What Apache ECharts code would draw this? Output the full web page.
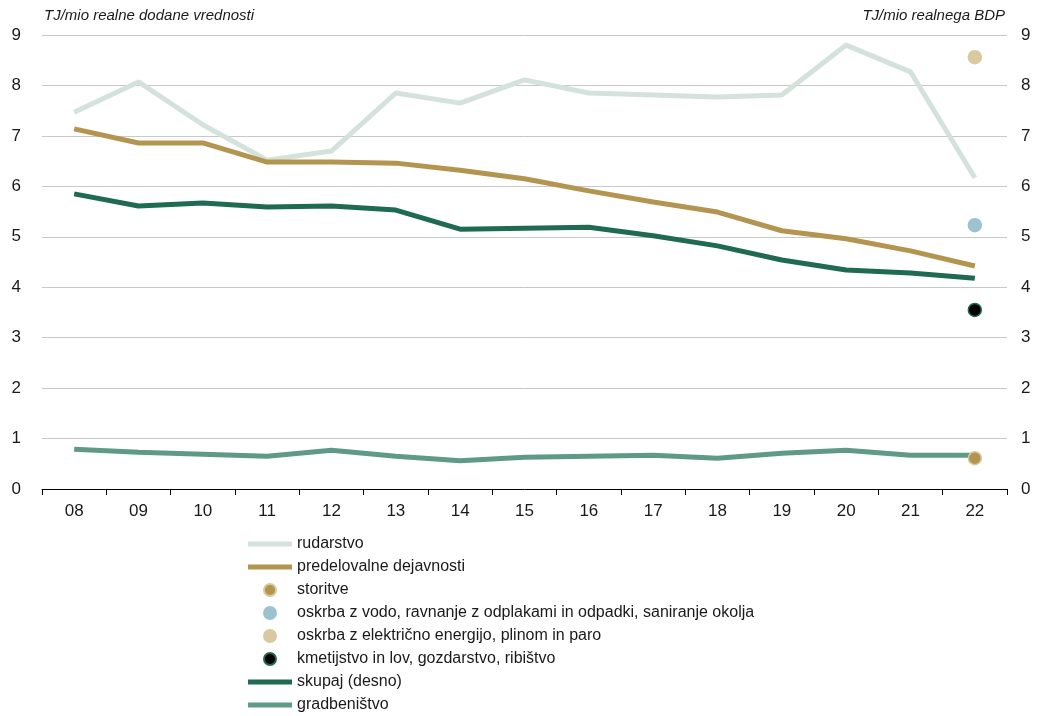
<!DOCTYPE html>
<html>
<head>
<meta charset="utf-8">
<script src="https://cdn.jsdelivr.net/npm/echarts@6/dist/echarts.min.js"></script>
<style>
  html, body { margin: 0; padding: 0; background: #fff; }
  #chart { width: 1038px; height: 716px; }
</style>
</head>
<body>
<div id="chart"></div>
<script>
// leta (kategorije)
var years = ['08', '09', '10', '11', '12', '13', '14', '15', '16', '17', '18', '19', '20', '21', '22'];

var rudarstvo = [7.47, 8.07, 7.22, 6.52, 6.70, 7.85, 7.65, 8.11, 7.85, 7.81, 7.77, 7.81, 8.80, 8.27, 6.17];
var predelovalne = [7.14, 6.86, 6.86, 6.48, 6.48, 6.46, 6.32, 6.15, 5.91, 5.69, 5.49, 5.12, 4.96, 4.72, 4.42];
var skupaj = [5.85, 5.61, 5.67, 5.59, 5.61, 5.53, 5.15, 5.17, 5.19, 5.02, 4.82, 4.54, 4.34, 4.28, 4.18];
var gradbenistvo = [0.79, 0.73, 0.69, 0.65, 0.77, 0.65, 0.56, 0.63, 0.65, 0.67, 0.61, 0.71, 0.77, 0.67, 0.67];

// samo zadnje leto
var storitve = [['22', 0.61]];
var oskrbaVoda = [['22', 5.23]];
var oskrbaElektrika = [['22', 8.56]];
var kmetijstvo = [['22', 3.55]];

var yTicks = [0, 9, 1]; // min, max, interval

var chart = echarts.init(document.getElementById('chart'));

var lineIcon = 'path://M0,0 L44,0 L44,5 L0,5 Z';

function lineSeries(name, data, color, axis) {
  return {
    name: name,
    type: 'line',
    data: data,
    yAxisIndex: axis || 0,
    symbol: 'none',
    lineStyle: { width: 5, color: color },
    itemStyle: { color: color },
    z: 2
  };
}

function dotSeries(name, data, color, border) {
  return {
    name: name,
    type: 'scatter',
    data: data,
    symbolSize: 13,
    itemStyle: { color: color, borderColor: border || color, borderWidth: 1.5, opacity: 1 },
    z: 5
  };
}

var option = {
  animation: false,
  textStyle: { fontFamily: 'Liberation Sans, Arial, sans-serif' },
  grid: { left: 42, right: 31, top: 35, bottom: 227 },
  legend: {
    orient: 'vertical',
    left: 248,
    top: 536,
    height: 190,
    padding: 0,
    itemWidth: 44,
    itemHeight: 12,
    itemGap: 7,
    textStyle: { fontSize: 16, color: '#1a1a1a' },
    data: [
      { name: 'rudarstvo', icon: lineIcon },
      { name: 'predelovalne dejavnosti', icon: lineIcon },
      { name: 'storitve' },
      { name: 'oskrba z vodo, ravnanje z odplakami in odpadki, saniranje okolja' },
      { name: 'oskrba z električno energijo, plinom in paro' },
      { name: 'kmetijstvo in lov, gozdarstvo, ribištvo' },
      { name: 'skupaj (desno)', icon: lineIcon },
      { name: 'gradbeništvo', icon: lineIcon }
    ]
  },
  xAxis: {
    type: 'category',
    data: years,
    boundaryGap: true,
    axisLine: { lineStyle: { color: '#000', width: 1 } },
    axisTick: { show: true, length: 6, lineStyle: { color: '#000' } },
    axisLabel: { fontSize: 17, color: '#1a1a1a', margin: 14 }
  },
  yAxis: [
    {
      type: 'value',
      min: yTicks[0], max: yTicks[1], interval: yTicks[2],
      name: 'TJ/mio realne dodane vrednosti',
      nameLocation: 'end',
      nameGap: 12,
      nameTextStyle: { fontSize: 15, fontStyle: 'italic', color: '#1a1a1a', align: 'left', padding: [0, 0, 0, 2] },
      axisLine: { show: false },
      axisTick: { show: false },
      axisLabel: { fontSize: 17, color: '#1a1a1a', margin: 21 },
      splitLine: { lineStyle: { color: '#c8c8c8', width: 1 } }
    },
    {
      type: 'value',
      min: yTicks[0], max: yTicks[1], interval: yTicks[2],
      name: 'TJ/mio realnega BDP',
      nameLocation: 'end',
      nameGap: 12,
      nameTextStyle: { fontSize: 15, fontStyle: 'italic', color: '#1a1a1a', align: 'right', padding: [0, 2, 0, 0] },
      axisLine: { show: false },
      axisTick: { show: false },
      axisLabel: { fontSize: 17, color: '#1a1a1a', margin: 14 },
      splitLine: { show: false }
    }
  ],
  series: [
    lineSeries('rudarstvo', rudarstvo, '#d3e3dc'),
    lineSeries('predelovalne dejavnosti', predelovalne, '#b3954f'),
    dotSeries('storitve', storitve, '#b3954f', '#d8c99c'),
    dotSeries('oskrba z vodo, ravnanje z odplakami in odpadki, saniranje okolja', oskrbaVoda, '#9cc2d0'),
    dotSeries('oskrba z električno energijo, plinom in paro', oskrbaElektrika, '#d9c9a0'),
    dotSeries('kmetijstvo in lov, gozdarstvo, ribištvo', kmetijstvo, '#000000', '#1e6b50'),
    lineSeries('skupaj (desno)', skupaj, '#1e6b50', 1),
    lineSeries('gradbeništvo', gradbenistvo, '#5f9a85')
  ]
};

chart.setOption(option);
</script>
</body>
</html>
